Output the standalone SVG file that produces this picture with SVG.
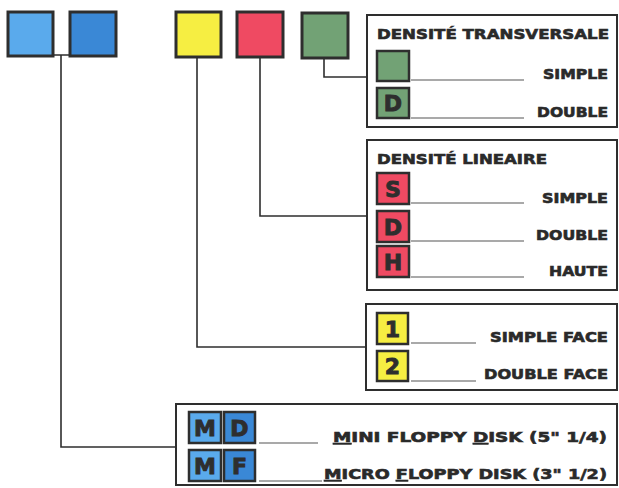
<svg xmlns="http://www.w3.org/2000/svg" width="619" height="488" viewBox="0 0 619 488">
<style>
.box{fill:#fff;stroke:#2e2e2e;stroke-width:2}
.sq{stroke:#2e2e2e;stroke-width:2.5}
.big{stroke:#2e2e2e;stroke-width:3}
.lb{fill:#5aaaec}.db{fill:#3a88d6}.ye{fill:#f6ee42}.re{fill:#ef4a62}.gr{fill:#72a275}
.t{font-family:"DejaVu Sans","Liberation Sans",sans-serif;font-weight:bold;font-size:13.5px;fill:#2a2a2a;stroke:#2a2a2a;stroke-width:0.6}
.k{font-family:"DejaVu Sans","Liberation Sans",sans-serif;font-weight:bold;font-size:22px;fill:#2e2e2e;stroke:#2e2e2e;stroke-width:0.9;text-anchor:middle}
.ln{stroke:#555;stroke-width:1.2;fill:none}
.c{stroke:#2e2e2e;stroke-width:1.6;fill:none}
</style>
<g id="connectors">
<path class="c" d="M53,55 H70 M61,55 V447 H176"/>
<path class="c" d="M197,57 V347 H366"/>
<path class="c" d="M260,57 V216 H367"/>
<path class="c" d="M324,58 V77 H367"/>
</g>
<g id="top-squares">
<rect class="big lb" x="8" y="12" width="45" height="44"/>
<rect class="big db" x="70" y="12" width="46" height="44"/>
<rect class="big ye" x="176" y="12" width="45" height="45"/>
<rect class="big re" x="237" y="12" width="46" height="45"/>
<rect class="big gr" x="302" y="13" width="46" height="45"/>
</g>
<g id="densite-transversale">
<rect class="box" x="367" y="15" width="250" height="112"/>
<text class="t" x="377" y="39" textLength="232" lengthAdjust="spacingAndGlyphs">DENSITÉ TRANSVERSALE</text>
<rect class="sq gr" x="377" y="51" width="32" height="30"/>
<line class="ln" x1="411" y1="80" x2="524" y2="80"/>
<text class="t" x="608" y="79" text-anchor="end" textLength="65" lengthAdjust="spacingAndGlyphs">SIMPLE</text>
<rect class="sq gr" x="377" y="88" width="32" height="30"/>
<text class="k" x="393" y="111">D</text>
<line class="ln" x1="411" y1="118" x2="524" y2="118"/>
<text class="t" x="608" y="117" text-anchor="end" textLength="71" lengthAdjust="spacingAndGlyphs">DOUBLE</text>
</g>
<g id="densite-lineaire">
<rect class="box" x="367" y="140" width="250" height="150"/>
<text class="t" x="377" y="164" textLength="170" lengthAdjust="spacingAndGlyphs">DENSITÉ LINEAIRE</text>
<rect class="sq re" x="377" y="173" width="32" height="31"/>
<text class="k" x="393" y="196.5">S</text>
<line class="ln" x1="411" y1="203" x2="524" y2="203"/>
<text class="t" x="608" y="203" text-anchor="end" textLength="66" lengthAdjust="spacingAndGlyphs">SIMPLE</text>
<rect class="sq re" x="377" y="211" width="32" height="31"/>
<text class="k" x="393" y="234.5">D</text>
<line class="ln" x1="411" y1="241" x2="524" y2="241"/>
<text class="t" x="608" y="240" text-anchor="end" textLength="72" lengthAdjust="spacingAndGlyphs">DOUBLE</text>
<rect class="sq re" x="377" y="246" width="32" height="31"/>
<text class="k" x="393" y="269.5">H</text>
<line class="ln" x1="411" y1="277" x2="524" y2="277"/>
<text class="t" x="608" y="276" text-anchor="end" textLength="59" lengthAdjust="spacingAndGlyphs">HAUTE</text>
</g>
<g id="faces">
<rect class="box" x="366" y="304" width="251" height="86"/>
<rect class="sq ye" x="377" y="313" width="31" height="31"/>
<text class="k" x="392.5" y="336.5">1</text>
<line class="ln" x1="411" y1="343" x2="476" y2="343"/>
<text class="t" x="608" y="342" text-anchor="end" textLength="118" lengthAdjust="spacingAndGlyphs">SIMPLE FACE</text>
<rect class="sq ye" x="377" y="351" width="31" height="30"/>
<text class="k" x="392.5" y="374">2</text>
<line class="ln" x1="411" y1="381" x2="476" y2="381"/>
<text class="t" x="608" y="379" text-anchor="end" textLength="124" lengthAdjust="spacingAndGlyphs">DOUBLE FACE</text>
</g>
<g id="floppy">
<rect class="box" x="176" y="404" width="441" height="81"/>
<rect class="sq lb" x="189" y="412" width="32" height="31"/>
<text class="k" x="205" y="435.5">M</text>
<rect class="sq db" x="224" y="412" width="31" height="31"/>
<text class="k" x="239.5" y="435.5">D</text>
<line class="ln" x1="259" y1="443" x2="318" y2="443"/>
<text class="t" x="607" y="442" text-anchor="end" textLength="274" lengthAdjust="spacingAndGlyphs"><tspan text-decoration="underline">M</tspan>INI FLOPPY <tspan text-decoration="underline">D</tspan>ISK (5" 1/4)</text>
<rect class="sq lb" x="189" y="450" width="32" height="31"/>
<text class="k" x="205" y="473.5">M</text>
<rect class="sq db" x="224" y="450" width="31" height="31"/>
<text class="k" x="239.5" y="473.5">F</text>
<line class="ln" x1="259" y1="481" x2="322" y2="481"/>
<text class="t" x="607" y="479" text-anchor="end" textLength="283" lengthAdjust="spacingAndGlyphs"><tspan text-decoration="underline">M</tspan>ICRO <tspan text-decoration="underline">F</tspan>LOPPY DISK (3" 1/2)</text>
</g>
</svg>
